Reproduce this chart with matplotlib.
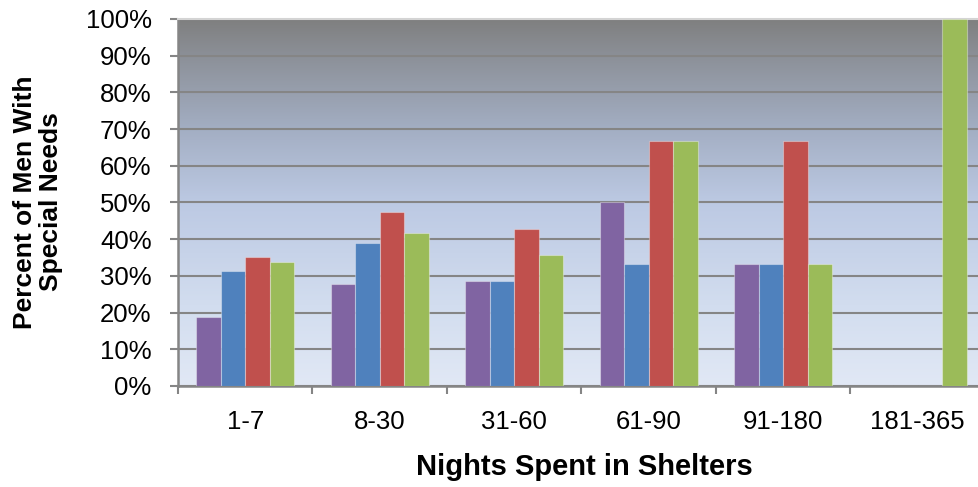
import numpy as np
import matplotlib
matplotlib.use('Agg')
import matplotlib.pyplot as plt
from matplotlib.colors import to_rgb
from matplotlib.ticker import FixedLocator, PercentFormatter

plt.rcParams['font.family'] = ['Liberation Sans', 'DejaVu Sans']

categories = ['1-7', '8-30', '31-60', '61-90', '91-180', '181-365']
purple_vals = [18.8, 27.8, 28.6, 50.0, 33.3, 0]
blue_vals = [31.3, 38.9, 28.6, 33.3, 33.3, 0]
red_vals = [35.1, 47.3, 42.9, 66.7, 66.7, 0]
green_vals = [33.8, 41.7, 35.7, 66.7, 33.3, 100.0]

series = [purple_vals, blue_vals, red_vals, green_vals]
colors = ['#8064A2', '#4F81BD', '#C0504D', '#9BBB59']

fig = plt.figure(figsize=(9.79, 4.87), dpi=100)
ax = fig.add_axes([0.1818, 0.2074, 0.8243, 0.7536])

# gradient background (gray at top to pale blue at bottom)
stops = [(0.0, '#E1E8F5'), (0.22, '#D2DDEF'), (0.5, '#BCC9E3'),
         (0.7, '#A3AEC3'), (0.88, '#8E939C'), (1.0, '#7F7F7F')]
pos = np.linspace(0, 1, 256)
grad = np.zeros((256, 1, 3))
for c in range(3):
    grad[:, 0, c] = np.interp(pos, [s[0] for s in stops],
                              [to_rgb(s[1])[c] for s in stops])
ax.imshow(grad, extent=[0, 6, 0, 100], origin='lower', aspect='auto', zorder=0)

w = 0.182
x = np.arange(len(categories)) + 0.5
for k, (vals, col) in enumerate(zip(series, colors)):
    ax.bar(x + (k - 1.5) * w, vals, width=w, color=col,
           edgecolor=(1, 1, 1, 0.35), linewidth=0.8, zorder=3)

ax.set_xlim(0, 6)
ax.set_ylim(0, 100)
ax.set_yticks(np.arange(0, 101, 10))
ax.yaxis.set_major_formatter(PercentFormatter(decimals=0))
ax.grid(axis='y', color='#858585', linewidth=1.5, zorder=1)
ax.set_axisbelow(True)

ax.xaxis.set_major_locator(FixedLocator(range(7)))
ax.xaxis.set_minor_locator(FixedLocator(x))
ax.set_xticklabels([])
ax.set_xticklabels(categories, minor=True)
ax.tick_params(axis='x', which='major', length=6, width=1.5, color='#858585')
ax.tick_params(axis='x', which='minor', length=0, pad=17, labelsize=18.5)
ax.tick_params(axis='y', length=6, width=1.5, color='#858585', labelsize=18.5, pad=13)

for s in ['left', 'bottom']:
    ax.spines[s].set_color('#858585')
    ax.spines[s].set_linewidth(1.8)
ax.spines['top'].set_color('#D4D4D4')
ax.spines['top'].set_linewidth(1.5)
ax.spines['right'].set_visible(False)

fig.text(584 / 979, 1 - 467 / 487, 'Nights Spent in Shelters', ha='center',
         va='center', fontsize=21, fontweight='bold')
fig.text(38 / 979, 1 - 202 / 487, 'Percent of Men With\nSpecial Needs',
         rotation=90, ha='center', va='center', multialignment='center',
         fontsize=19, fontweight='bold', linespacing=1.1)

fig.savefig('out.png', dpi=100)
